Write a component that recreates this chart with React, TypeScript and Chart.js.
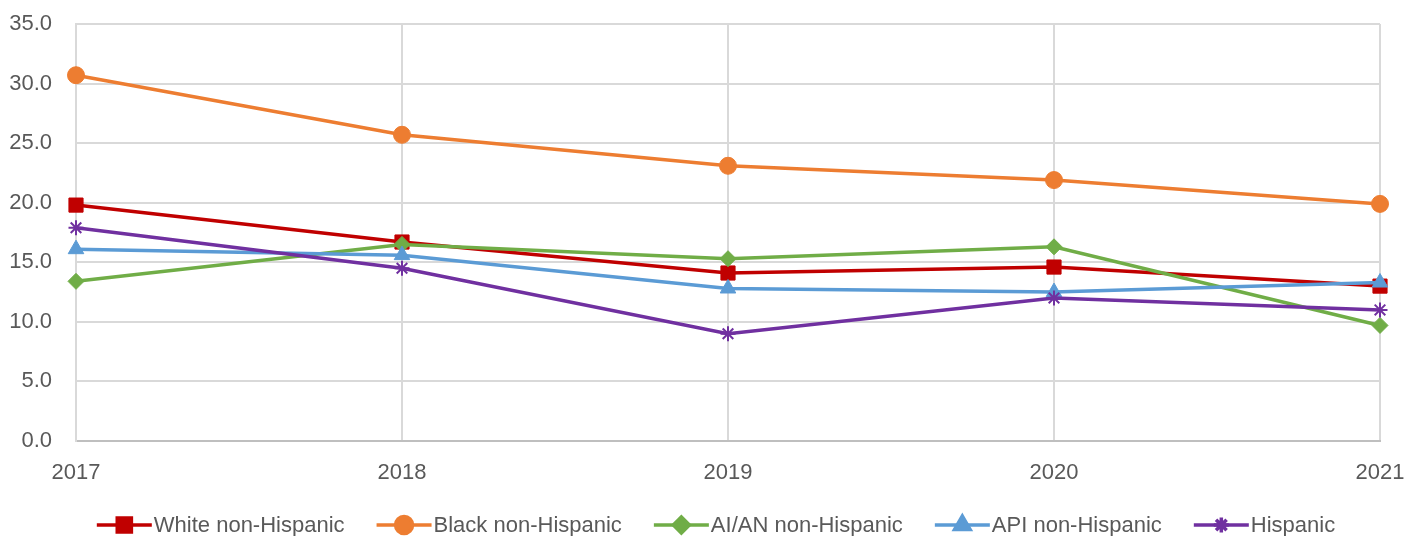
import React, { useEffect, useRef } from "react";
import { Chart, registerables } from "chart.js";
import { drawPoint } from "chart.js/helpers";

Chart.register(...registerables);

const years = ["2017", "2018", "2019", "2020", "2021"];
const whiteNH = [19.8, 16.7, 14.1, 14.6, 13.0];
const blackNH = [30.7, 25.7, 23.1, 21.9, 19.9];
const aianNH = [13.4, 16.5, 15.3, 16.3, 9.7];
const apiNH = [16.1, 15.6, 12.8, 12.5, 13.3];
const hispanic = [17.9, 14.5, 9.0, 12.0, 11.0];

const seriesNames = ["White non-Hispanic", "Black non-Hispanic", "AI/AN non-Hispanic", "API non-Hispanic", "Hispanic"];
const seriesColors = ["#C00000", "#ED7D31", "#70AD47", "#5B9BD5", "#7030A0"];
const seriesPoints = ["rect", "circle", "rectRot", "triangle", "star"];
const seriesRadius = [10, 8.5, 8, 9, 7.5];
const seriesData = [whiteNH, blackNH, aianNH, apiNH, hispanic];

const FONT = "'Liberation Sans', Arial, sans-serif";
const FONT_SIZE = 22;
const TEXT_COLOR = "#595959";

const legendPlugin = {
  id: "excelLegend",
  afterDraw(chart: any) {
    const ctx = chart.ctx;
    ctx.save();
    ctx.font = `${FONT_SIZE}px ${FONT}`;
    const lineLen = 55;
    const gapText = 2;
    const gapItem = 32;
    const widths = seriesNames.map((n) => ctx.measureText(n).width);
    let total = 0;
    widths.forEach((w, i) => {
      total += lineLen + gapText + w + (i < widths.length - 1 ? gapItem : 0);
    });
    let x = 716 - total / 2;
    const y = 525;
    seriesNames.forEach((name, i) => {
      ctx.strokeStyle = seriesColors[i];
      ctx.fillStyle = seriesColors[i];
      ctx.lineWidth = 3.5;
      ctx.beginPath();
      ctx.moveTo(x, y);
      ctx.lineTo(x + lineLen, y);
      ctx.stroke();
      drawPoint(ctx, { pointStyle: seriesPoints[i], radius: seriesRadius[i], borderWidth: seriesPoints[i] === "star" ? 2 : 1, rotation: 0 } as any, x + lineLen / 2, y);
      ctx.fillStyle = TEXT_COLOR;
      ctx.textBaseline = "middle";
      ctx.textAlign = "left";
      ctx.fillText(name, x + lineLen + gapText, y + 1);
      x += lineLen + gapText + widths[i] + gapItem;
    });
    ctx.restore();
  },
};

export default function App() {
  const ref = useRef<HTMLCanvasElement | null>(null);
  useEffect(() => {
    document.body.style.margin = "0";
    const canvas = ref.current!;
    const chart = new Chart(canvas, {
      type: "line",
      data: {
        labels: years,
        datasets: seriesData.map((d, i) => ({
          label: seriesNames[i],
          data: d,
          borderColor: seriesColors[i],
          backgroundColor: seriesColors[i],
          borderWidth: 3.5,
          pointStyle: seriesPoints[i] as any,
          pointRadius: seriesRadius[i],
          pointBorderWidth: seriesPoints[i] === "star" ? 2 : 1,
          pointBackgroundColor: seriesColors[i],
          pointBorderColor: seriesColors[i],
          tension: 0,
          order: 4 - i,
        })),
      },
      options: {
        animation: false,
        responsive: false,
        maintainAspectRatio: false,
        layout: { padding: { top: 24, right: 26, bottom: 45, left: 0 } },
        plugins: {
          legend: { display: false },
          tooltip: { enabled: false },
        },
        scales: {
          x: {
            type: "category",
            offset: false,
            grid: { color: "#D9D9D9", lineWidth: 2, drawTicks: false },
            border: { color: "#BFBFBF", width: 2 },
            ticks: { color: TEXT_COLOR, font: { family: FONT, size: FONT_SIZE }, padding: 19, maxRotation: 0 },
            afterFit: (s: any) => {
              s.height = 50;
              s.paddingLeft = 0;
              s.paddingRight = 0;
            },
          },
          y: {
            min: 0,
            max: 35,
            grid: { color: "#D9D9D9", lineWidth: 2, drawTicks: false },
            border: { color: "#D9D9D9", width: 2 },
            ticks: {
              stepSize: 5,
              color: TEXT_COLOR,
              font: { family: FONT, size: FONT_SIZE },
              padding: 24,
              callback: (v: any) => Number(v).toFixed(1),
            },
            afterFit: (s: any) => {
              s.width = 76;
              s.paddingTop = 0;
              s.paddingBottom = 0;
            },
          },
        },
      },
      plugins: [legendPlugin],
    });
    return () => chart.destroy();
  }, []);
  return (
    <div style={{ width: 1406, height: 536 }}>
      <canvas ref={ref} width={1406} height={536} style={{ display: "block" }} />
    </div>
  );
}
